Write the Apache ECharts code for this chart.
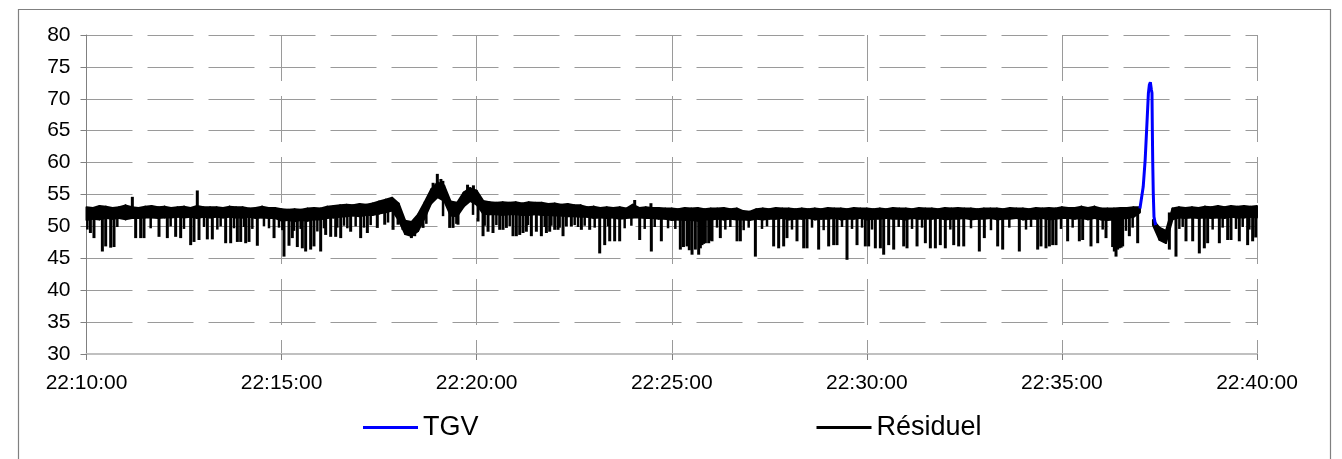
<!DOCTYPE html>
<html>
<head>
<meta charset="utf-8">
<script src="https://cdn.jsdelivr.net/npm/echarts/dist/echarts.min.js"></script>
<style>
  html, body { margin: 0; padding: 0; background: #fff; }
  #chart { width: 1342px; height: 459px; }
</style>
</head>
<body>
<div id="chart"></div>
<script>
// Time is counted in seconds after 22:10:00.
const timeLabels = ['22:10:00', '22:15:00', '22:20:00', '22:25:00', '22:30:00', '22:35:00', '22:40:00'];
const TICK_STEP = 300;

// Residual noise band, sampled every 10 s: upper and lower edge of the dense trace.
const BAND_STEP = 10;
const bandHigh = [
  53.0,52.9,53.2,53.1,52.9,53.0,53.3,53.0,52.9,53.1,
  53.2,53.0,53.1,52.9,53.0,53.1,52.9,53.2,53.0,53.0,
  53.0,52.9,53.1,53.0,53.0,52.8,52.9,53.1,52.9,52.9,
  52.7,52.6,52.7,52.6,52.8,52.9,52.8,53.1,53.2,53.3,
  53.4,53.3,53.5,53.4,53.6,53.9,54.2,54.5,53.6,50.9,
  50.7,51.9,53.8,55.8,56.9,56.4,53.9,53.7,55.3,56.0,
  55.6,54.0,53.8,53.7,53.8,53.7,53.8,53.6,53.8,53.7,
  53.7,53.5,53.6,53.4,53.5,53.3,53.3,53.0,53.1,52.9,
  53.0,52.9,53.0,52.8,53.4,52.9,53.0,52.9,52.9,52.8,
  52.8,52.7,52.9,52.8,52.9,52.7,52.8,52.8,52.9,52.7,
  52.8,52.4,52.3,52.7,52.8,52.7,52.9,52.8,52.8,52.7,
  52.8,52.7,52.8,52.7,52.9,52.8,52.8,52.7,52.9,52.8,
  52.8,52.7,52.8,52.7,52.9,52.8,52.8,52.7,52.9,52.8,
  52.8,52.7,52.9,52.8,52.9,52.8,52.8,52.7,52.8,52.8,
  52.8,52.7,52.9,52.8,52.8,52.7,52.9,52.8,52.9,52.8,
  53.0,52.9,52.9,53.1,52.9,53.1,52.8,52.8,52.8,52.9,
  52.9,53.0,53.0,null,51.0,49.8,49.3,52.8,53.0,52.9,
  53.0,52.9,53.1,53.0,53.2,53.0,53.2,53.1,53.2,53.1,
  53.2
];
const bandLow = [
  51.0,51.2,51.1,51.3,51.2,51.3,51.1,51.3,51.3,51.4,
  51.4,51.3,51.4,51.4,51.5,51.4,51.5,51.3,51.5,51.4,
  51.5,51.4,51.5,51.4,51.4,51.5,51.3,51.4,51.3,51.3,
  50.9,51.0,50.8,51.0,50.9,51.1,51.1,51.3,51.4,51.5,
  51.6,51.7,51.6,51.8,51.8,52.0,52.2,52.5,51.0,48.8,
  48.5,49.3,51.3,53.6,54.6,54.0,51.7,51.6,53.1,54.0,
  53.4,52.0,51.9,51.9,51.8,51.9,51.9,51.8,51.8,51.9,
  51.8,51.8,51.7,51.7,51.6,51.6,51.5,51.5,51.3,51.4,
  51.3,51.4,51.2,51.3,51.4,51.4,51.3,51.3,51.2,51.2,
  51.0,51.1,51.0,51.0,50.9,51.1,51.1,51.2,51.1,51.2,
  51.1,51.1,51.0,51.2,51.1,51.2,51.2,51.3,51.1,51.2,
  51.2,51.3,51.1,51.2,51.2,51.3,51.1,51.2,51.2,51.3,
  51.1,51.2,51.2,51.3,51.2,51.2,51.1,51.3,51.2,51.2,
  51.2,51.3,51.1,51.2,51.2,51.3,51.1,51.2,51.2,51.3,
  51.1,51.2,51.2,51.3,51.1,51.2,51.2,51.3,51.1,51.2,
  51.3,51.3,51.2,51.3,51.1,51.3,51.1,51.0,51.1,51.2,
  51.3,51.5,52.2,null,50.2,47.9,47.4,51.1,51.4,51.3,
  51.4,51.3,51.4,51.3,51.4,51.3,51.5,51.4,51.4,51.5,
  51.4
];

// Short excursions of the residual: [seconds, extreme value].
const residualSpikes = [
  [6,49.2],[11.5,48.4],[24.4,46.3],[29.5,47.1],[37.2,46.9],[42.3,47.0],[70.5,54.4],[75.6,48.4],
  [83.3,48.4],[88.4,48.4],[111.5,48.6],[124.3,48.4],[137.1,48.6],[144.8,48.4],[160.2,47.3],
  [165.3,47.8],[170.4,55.4],[173,48.1],[185.8,48.2],[193.5,48.2],[214,47.6],[221.7,47.6],
  [232,47.8],[237.1,47.8],[244.8,47.6],[249.9,47.8],[262.7,47.2],[288.4,48.4],[303.7,45.5],
  [311.4,47.2],[316.5,48.4],[324.2,47.0],[331.9,46.8],[337,46.3],[344.7,46.6],[349.8,47.1],
  [360.1,46.3],[367.8,48.9],[375.5,48.6],[383.2,48.6],[390.9,48.4],[406.2,49.4],[421.6,48.4],
  [431.9,49.2],[447.2,50.0],
  [458.6,50.5],[471.4,49.7],[479.1,50.5],[486.7,49.7],[499.6,48.4],[504.7,48.7],[517.5,50.0],
  [533,56.6],[539.5,58.0],[545,57.2],[548,56.9],[558.5,50.0],[563.6,50.0],[571.3,50.5],
  [586,56.3],[595,56.2],[602.1,51.0],[609.8,48.7],[617.5,49.4],
  [625.1,49.2],[635.4,49.7],[640.5,49.7],[645.7,50.0],[655.9,48.7],[661,48.7],[666.2,48.9],
  [671.3,49.2],[676.4,49.4],[684.1,48.7],[691.8,49.4],[699.5,48.7],[707.2,49.2],[712.3,49.4],
  [720,49.7],[725.1,49.7],[732.8,48.7],[737.9,50.2],[745.6,50.2],[761,49.7],[773.8,49.7],
  [789.2,46.0],[796.9,47.3],[804.6,47.9],[812.2,47.9],[819.9,47.9],[843,53.9],[850.7,48.1],
  [868,53.4],[868.6,46.3],[884,47.9],
  [913.2,46.6],[918,47.0],[923.5,47.1],[927,46.5],[931.2,45.8],[936.3,46.6],[941.4,45.8],
  [944,46.8],[946.5,47.3],[949,47.5],[951.7,47.6],[956.8,47.6],[959,48.0],[961.9,47.9],
  [974.7,48.4],[1000.4,47.9],[1005.5,47.9],[1028.6,45.5],[1056.7,47.1],[1064.4,46.8],
  [1072.1,47.1],[1077.2,48.4],[1092.6,47.9],[1102.9,46.8],[1108,46.8],[1125.9,46.6],
  [1141.3,47.1],[1149,47.3],[1154.1,47.3],[1169.5,45.0],[1184.9,47.3],[1197.7,47.1],
  [1202.8,47.1],[1213.1,46.8],[1220.8,46.8],[1225.9,45.8],[1233.6,47.3],[1241.3,46.6],
  [1256.7,47.1],[1261.8,46.8],[1277.2,47.1],[1290,47.6],[1297.7,46.8],[1305.4,46.8],
  [1313,47.3],[1320.7,46.8],[1333.6,47.3],[1341.2,47.1],[1349,47.1],
  [1373,46.3],[1380.7,48.4],[1401.2,47.1],[1408.9,46.6],[1434.5,46.3],[1462.7,46.6],
  [1467.8,47.1],[1475.5,46.8],[1480.7,47.1],[1485.8,47.3],[1490.9,47.3],[1508.8,47.9],
  [1526.8,47.9],[1531.9,48.1],[1544.7,47.1],[1555,47.6],[1567.8,48.4],[1578,47.0],
  [1580.6,46.3],[1583.2,45.5],[1585.7,46.6],[1588.3,46.8],[1591,46.9],[1593.4,47.1],
  [1603.7,48.7],[1616.5,47.6],[1665.2,46.6],[1675.4,45.5],[1690.8,47.9],[1701.1,47.9],
  [1711.3,46.0],[1719,46.8],[1724.1,47.6],[1742.1,47.6],[1754.9,48.1],[1760,48.1],
  [1772.8,47.9],[1785.6,47.3],[1793.3,47.9],[1798,48.5]
];

// Shallow dips along the lower edge of the trace: [seconds, value].
const residualShallow = [
  [1.3,49.7],[47.4,50.1],[98.7,49.9],[129.4,50.2],[149.9,49.8],[180.7,50.1],[201.2,49.7],
  [206.3,50.2],[226.8,49.9],[242.2,50.1],[255,49.8],[272.9,50.2],[280.6,49.9],[296,50.0],
  [301.1,49.6],[319.1,49.5],[329.3,49.8],[355,49.4],[365.2,49.9],[385.7,50.0],[396,50.3],
  [401.1,49.9],[413.9,50.2],[426.7,50.0],[437,50.4],
  [463.7,50.8],[522.6,50.6],[548.3,51.8],[568.8,50.6],[594.4,52.0],[612.3,50.3],[630.3,50.4],
  [650.8,50.2],[679,50.4],[704.6,50.1],[714.9,50.3],[727.6,50.0],[750.7,50.4],[755.9,50.1],
  [766.1,50.3],[781.5,50.0],[802,50.2],[827.6,49.9],[837.9,50.3],[858.4,49.8],[873.8,50.1],
  [894.3,49.9],
  [905.5,49.8],[969.6,50.0],[982.4,49.7],[990.1,50.1],[1010.6,49.6],[1018.3,50.0],
  [1038.8,49.8],[1046.5,50.2],[1084.9,49.7],[1115.7,50.0],[1133.6,49.6],[1161.8,50.1],
  [1177.2,49.8],[1192.6,50.0],[1208,49.7],[1249,50.1],[1269.5,49.8],[1284.9,50.0],
  [1328.4,49.7],
  [1360.2,49.9],[1390.9,49.6],[1419.1,50.0],[1444.8,49.7],[1452.5,50.1],[1498.6,49.8],
  [1516.5,50.0],[1562.7,49.7],[1598.5,49.5],[1608.8,50.0],[1680.6,49.8],[1685.7,50.1],
  [1731.8,49.7],[1747.2,50.0],[1767.7,49.8],[1778,50.1],[1788.2,49.7]
];

// Train passage (TGV): [seconds, level].
const tgvPoints = [
  [1620,52.8],[1625,56.2],[1628,60.4],[1630.5,65.6],[1633,70.9],[1634.5,72.2],[1636,72.6],
  [1637.5,71.5],[1638.5,70.9],[1639,65.6],[1639.6,60.4],[1640.5,55.2],[1641.6,51.5],[1644,50.2]
];

const FONT = "'Liberation Sans', Arial, sans-serif";
const GRID_COLOR = '#9a9a9a';

function bandMid(k) {
  for (let d = 0; d < 5; d++) {
    for (const j of [k - d, k + d]) {
      if (j >= 0 && j < bandHigh.length && bandHigh[j] != null) {
        return (bandHigh[j] + bandLow[j]) / 2;
      }
    }
  }
  return 52;
}

function renderBand(params, api) {
  const i = params.dataIndex;
  if (i >= bandHigh.length - 1) return;
  const h0 = bandHigh[i], l0 = bandLow[i], h1 = bandHigh[i + 1], l1 = bandLow[i + 1];
  if (h0 == null || h1 == null) return;
  const s0 = i * BAND_STEP, s1 = (i + 1) * BAND_STEP;
  return {
    type: 'polygon',
    shape: { points: [api.coord([s0, h0]), api.coord([s1, h1]), api.coord([s1, l1]), api.coord([s0, l0])] },
    style: { fill: '#000', stroke: '#000', lineWidth: 2, lineJoin: 'round' }
  };
}

function makeSpikeRenderer(width) {
  return function (params, api) {
    const s = api.value(0), v = api.value(1);
    const base = bandMid(Math.round(s / BAND_STEP));
    const p0 = api.coord([s, base]);
    const p1 = api.coord([s, v]);
    return {
      type: 'line',
      shape: { x1: p0[0], y1: p0[1], x2: p1[0], y2: p1[1] },
      style: { stroke: '#000', lineWidth: width, lineCap: 'square' }
    };
  };
}

const chart = echarts.init(document.getElementById('chart'), null, { renderer: 'canvas' });
chart.setOption({
  animation: false,
  backgroundColor: '#fff',
  graphic: [{
    type: 'rect',
    shape: { x: 18.5, y: 9.5, width: 1312, height: 480 },
    style: { fill: 'none', stroke: '#808080', lineWidth: 1.2 },
    silent: true
  }],
  grid: { left: 86.5, right: 85, top: 35, bottom: 105 },
  legend: {
    left: 358,
    top: 409,
    itemGap: 338,
    itemWidth: 55,
    itemHeight: 3,
    icon: 'rect',
    textStyle: { fontFamily: FONT, fontSize: 27, color: '#000' },
    data: [
      { name: 'TGV', itemStyle: { color: '#0000ff' } },
      { name: 'Résiduel', itemStyle: { color: '#000' } }
    ]
  },
  xAxis: {
    type: 'value',
    min: 0,
    max: 1800,
    interval: TICK_STEP,
    axisLine: { show: true, lineStyle: { color: '#c0c0c0', width: 2 } },
    axisTick: { show: true, length: 6, lineStyle: { color: '#808080' } },
    axisLabel: {
      margin: 19,
      fontFamily: FONT,
      fontSize: 21,
      color: '#000',
      formatter: v => timeLabels[Math.round(v / TICK_STEP)]
    },
    splitLine: { show: true, lineStyle: { color: GRID_COLOR, width: 1, type: [46, 15] } }
  },
  yAxis: {
    type: 'value',
    min: 30,
    max: 80,
    interval: 5,
    axisLine: { show: true, lineStyle: { color: '#808080', width: 1 } },
    axisTick: { show: true, length: 6, lineStyle: { color: '#808080' } },
    axisLabel: { margin: 16, fontFamily: FONT, fontSize: 21, color: '#000' },
    splitLine: { show: true, lineStyle: { color: GRID_COLOR, width: 1, type: [46, 15] } }
  },
  series: [
    {
      name: 'Résiduel',
      type: 'custom',
      renderItem: renderBand,
      itemStyle: { color: '#000' },
      encode: { x: 0, y: [1, 2] },
      data: bandHigh.map((h, i) => [i * BAND_STEP, h, bandLow[i]]),
      z: 3
    },
    {
      name: 'Résiduel',
      type: 'custom',
      renderItem: makeSpikeRenderer(3),
      itemStyle: { color: '#000' },
      encode: { x: 0, y: 1 },
      data: residualSpikes,
      z: 3
    },
    {
      name: 'Résiduel',
      type: 'custom',
      renderItem: makeSpikeRenderer(2.5),
      itemStyle: { color: '#000' },
      encode: { x: 0, y: 1 },
      data: residualShallow,
      z: 3
    },
    {
      name: 'TGV',
      type: 'line',
      data: tgvPoints,
      showSymbol: false,
      smooth: false,
      lineStyle: { color: '#0000ff', width: 3 },
      itemStyle: { color: '#0000ff' },
      z: 4
    }
  ]
});
</script>
</body>
</html>
